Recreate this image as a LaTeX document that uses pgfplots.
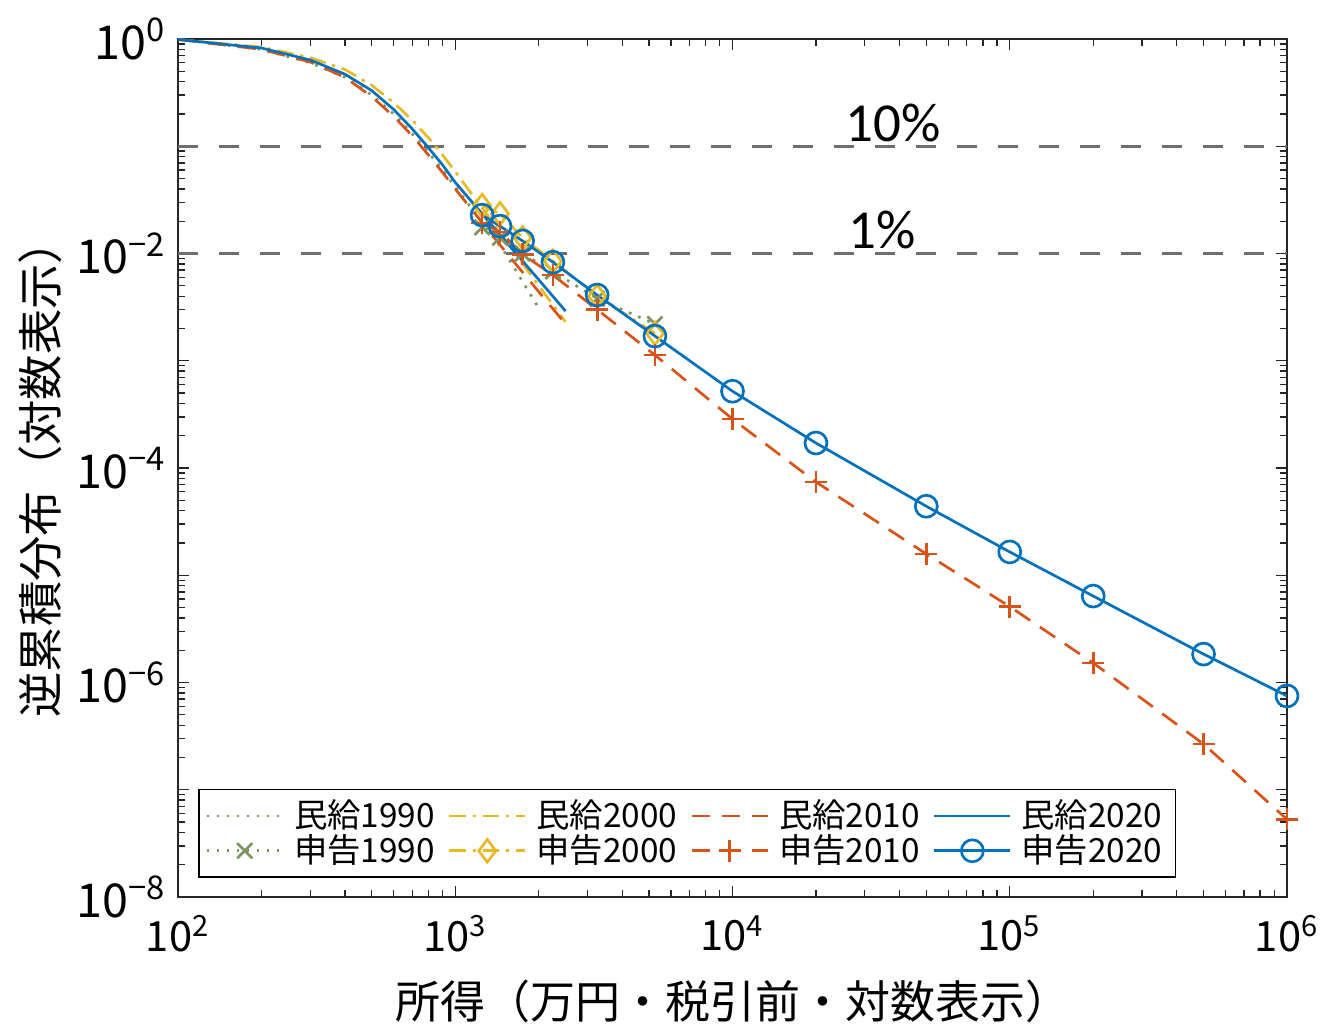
\documentclass[border=0pt]{standalone}
\usepackage{fontspec}
\setmainfont{Noto Sans CJK JP}
\newfontfamily\calibri{Carlito}
\usepackage{pgfplots}
\pgfplotsset{compat=1.18}
\definecolor{c90}{RGB}{125,150,95}
\definecolor{c00}{RGB}{232,185,35}
\definecolor{c10}{RGB}{217,83,25}
\definecolor{c20}{RGB}{0,114,189}
\definecolor{refline}{RGB}{110,110,110}
\begin{document}
\begin{tikzpicture}
\useasboundingbox (-53.4pt,-38.1pt) rectangle (344.4pt,269.1pt);
\begin{axis}[
  at={(0pt,0pt)}, anchor=south west, scale only axis,
  width=332.7pt, height=257.4pt,
  xmode=log, ymode=log,
  xmin=100, xmax=1e6, ymin=1e-8, ymax=1,
  axis line style={black!85, line width=0.5pt},
  tick style={black!85, line width=0.4pt},
  major tick length=3.2pt, minor tick length=2.2pt,
  tick align=inside,
  xtick={1e2,1e3,1e4,1e5,1e6},
  xticklabels={10\textsuperscript{2},10\textsuperscript{3},10\textsuperscript{4},10\textsuperscript{5},10\textsuperscript{6}},
  ytick={1e-8,1e-7,1e-6,1e-5,1e-4,1e-3,1e-2,1e-1,1},
  yticklabels={10\textsuperscript{−8},,10\textsuperscript{−6},,10\textsuperscript{−4},,10\textsuperscript{−2},,10\textsuperscript{0}},
  xticklabel style={yshift=-2pt, font=\fontsize{12.5}{14}\selectfont},
  yticklabel style={font=\fontsize{14}{15}\selectfont},
  xlabel={所得（万円・税引前・対数表示）},
  ylabel={逆累積分布（対数表示）},
  xlabel style={at={(axis description cs:0.5,-0.122)}, anchor=center, font=\fontsize{13.5}{15}\selectfont},
  ylabel style={at={(axis description cs:-0.1245,0.5)}, anchor=center, font=\fontsize{13.6}{15}\selectfont},
  legend columns=4,
  legend style={at={(0.018,0.022)}, anchor=south west, draw=black, line width=0.5pt,
    font=\fontsize{10}{11}\selectfont, inner xsep=2pt, inner ysep=1pt, row sep=-3.5pt,
    /tikz/every odd column/.append style={column sep=1pt},
    /tikz/every even column/.append style={column sep=2pt}},
  legend cell align=left,
  legend image code/.code={\draw[mark repeat=2,mark phase=2] plot coordinates {(0cm,0cm) (0.4cm,0cm) (0.8cm,0cm)};},
  every axis plot/.append style={line width=0.8pt},
]
\addplot[forget plot, refline, line width=0.9pt, dash pattern=on 6pt off 6.3pt] coordinates {(100,0.1) (1e6,0.1)};
\addplot[forget plot, refline, line width=0.9pt, dash pattern=on 6pt off 6.3pt] coordinates {(100,0.01) (1e6,0.01)};
% 民給
\addplot[c90, dash pattern=on 0.8pt off 2.2pt] coordinates {
 (100,0.99) (200,0.80) (300,0.60) (400,0.44) (500,0.30) (600,0.20) (700,0.13) (800,0.088) (900,0.06) (1000,0.042) (1500,0.0105) (2000,0.0031)};
\addlegendentry{民給1990}
\addplot[c00, dash pattern=on 5pt off 2pt on 1pt off 2pt] coordinates {
 (100,0.99) (200,0.84) (300,0.67) (400,0.52) (500,0.37) (600,0.255) (700,0.175) (800,0.12) (900,0.083) (1000,0.058) (1500,0.0140) (2000,0.0050) (2500,0.0023)};
\addlegendentry{民給2000}
\addplot[c10, dash pattern=on 5.5pt off 3.5pt] coordinates {
 (100,0.99) (200,0.80) (300,0.61) (400,0.44) (500,0.29) (600,0.19) (700,0.125) (800,0.083) (900,0.057) (1000,0.040) (1500,0.0108) (2000,0.0044) (2500,0.0022)};
\addlegendentry{民給2010}
\addplot[c20] coordinates {
 (100,0.99) (200,0.824) (300,0.637) (400,0.47) (500,0.33) (600,0.22) (700,0.145) (800,0.097) (900,0.067) (1000,0.046) (1500,0.0135) (2000,0.0057) (2500,0.0029)};
\addlegendentry{民給2020}
% 申告
\addplot[c90, dash pattern=on 0.8pt off 2.2pt, mark=x, mark size=3.2pt, mark options={solid}] coordinates {
 (1250,0.0175) (1450,0.0140) (1750,0.0100) (2250,0.0068) (3250,0.0038) (5250,0.0022)};
\addlegendentry{申告1990}
\addplot[c00, dash pattern=on 5pt off 2pt on 1pt off 2pt, mark=diamond, mark size=3.4pt, mark options={solid}] coordinates {
 (1250,0.028) (1450,0.0235) (1750,0.014) (2250,0.0085) (3250,0.0040) (5250,0.0018)};
\addlegendentry{申告2000}
\addplot[c10, dash pattern=on 5.5pt off 3.5pt, mark=+, mark size=3.3pt, mark options={solid}] coordinates {
 (1250,0.0192) (1450,0.0159) (1750,0.0098) (2250,0.0063) (3250,0.0030) (5250,0.00113) (10000,2.86e-4) (20000,7.4e-5) (50000,1.58e-5) (100000,5.1e-6) (200000,1.52e-6) (500000,2.67e-7) (1000000,5.3e-8)};
\addlegendentry{申告2010}
\addplot[c20, mark=o, mark size=3.3pt, mark options={solid}] coordinates {
 (1250,0.0228) (1450,0.0180) (1750,0.0131) (2250,0.0083) (3250,0.0041) (5250,0.0017) (10000,5.2e-4) (20000,1.71e-4) (50000,4.4e-5) (100000,1.65e-5) (200000,6.4e-6) (500000,1.84e-6) (1000000,7.5e-7)};
\addlegendentry{申告2020}
\node[font=\calibri\fontsize{16.5}{18}\selectfont] at (axis cs:37900,0.165) {10\%};
\node[font=\calibri\fontsize{16.5}{18}\selectfont] at (axis cs:34600,0.0166) {1\%};
\end{axis}
\end{tikzpicture}
\end{document}
